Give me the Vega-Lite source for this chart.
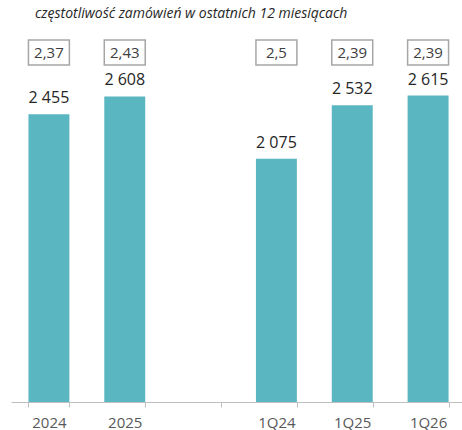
{
  "$schema": "https://vega.github.io/schema/vega-lite/v6.json",
  "width": 455,
  "height": 375,
  "padding": {"left": 11, "top": 27, "right": 0, "bottom": 28},
  "autosize": {"type": "none"},
  "background": "white",
  "config": {
    "view": {"stroke": null},
    "font": "Open Sans",
    "locale": {"number": {"decimal": ",", "thousands": " ", "grouping": [3], "currency": ["", " zł"]}}
  },
  "title": {
    "text": "częstotliwość zamówień w ostatnich 12 miesiącach",
    "anchor": "start",
    "frame": "group",
    "dx": 24,
    "offset": 6,
    "font": "Open Sans",
    "fontSize": 14,
    "fontStyle": "italic",
    "fontWeight": "normal",
    "color": "#262626"
  },
  "data": {
    "values": [
      {"okres": "2024", "wartosc": 2455, "czestotliwosc": "2,37"},
      {"okres": "2025", "wartosc": 2608, "czestotliwosc": "2,43"},
      {"okres": "1Q24", "wartosc": 2075, "czestotliwosc": "2,5"},
      {"okres": "1Q25", "wartosc": 2532, "czestotliwosc": "2,39"},
      {"okres": "1Q26", "wartosc": 2615, "czestotliwosc": "2,39"}
    ]
  },
  "encoding": {
    "x": {
      "field": "okres",
      "type": "nominal",
      "scale": {
        "domain": ["2024", "2025", "gap", "1Q24", "1Q25", "1Q26"],
        "paddingInner": 0.46,
        "paddingOuter": 0.23
      },
      "axis": {
        "title": null,
        "labelAngle": 0,
        "labelExpr": "datum.value == 'gap' ? '' : datum.value",
        "labelFont": "Open Sans",
        "labelFontSize": 15,
        "labelColor": "#595959",
        "labelPadding": 8,
        "domainColor": "#bfbfbf",
        "domainWidth": 1,
        "tickColor": "#bfbfbf",
        "tickSize": 5,
        "tickBand": "extent"
      }
    }
  },
  "layer": [
    {
      "mark": {"type": "bar", "color": "#5AB6C0"},
      "encoding": {
        "y": {
          "field": "wartosc",
          "type": "quantitative",
          "scale": {"domain": [0, 3200], "nice": false},
          "axis": null
        }
      }
    },
    {
      "mark": {"type": "text", "baseline": "bottom", "dy": -8, "fontSize": 16, "color": "#262626", "font": "Open Sans"},
      "encoding": {
        "y": {"field": "wartosc", "type": "quantitative"},
        "text": {"field": "wartosc", "type": "quantitative", "format": ",d"}
      }
    },
    {
      "mark": {"type": "rect", "fill": "white", "stroke": "#a6a6a6", "strokeWidth": 1.5},
      "encoding": {
        "y": {"datum": 3089, "type": "quantitative"},
        "y2": {"datum": 2875}
      }
    },
    {
      "mark": {"type": "text", "baseline": "middle", "fontSize": 15, "color": "#404040", "font": "Open Sans"},
      "encoding": {
        "y": {"datum": 2982, "type": "quantitative"},
        "text": {"field": "czestotliwosc"}
      }
    }
  ]
}
